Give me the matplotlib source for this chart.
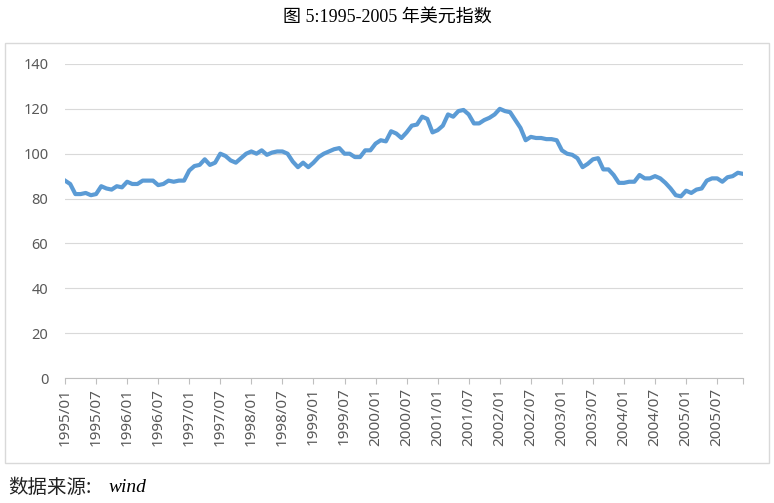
import numpy as np
import matplotlib.pyplot as plt
from matplotlib.patches import Rectangle

# monthly US dollar index, 1995/01 - 2005/12
months = [f"{y}/{m:02d}" for y in range(1995, 2006) for m in range(1, 13)]
usd_index = [
    88, 86.5, 82, 82, 82.5, 81.5, 82, 85.5, 84.5, 84, 85.5, 85,          # 1995
    87.5, 86.5, 86.5, 88, 88, 88, 86, 86.5, 88, 87.5, 88, 88,            # 1996
    92.5, 94.5, 95, 97.5, 95, 96, 100, 99, 97, 96, 98, 100,              # 1997
    101, 100, 101.5, 99.5, 100.5, 101, 101, 100, 96.5, 94, 96, 94,       # 1998
    96, 98.5, 100, 101, 102, 102.5, 100, 100, 98.5, 98.5, 101.5, 101.5,  # 1999
    104.5, 106, 105.5, 110, 109, 107, 109.5, 112.5, 113, 116.5, 115.5, 109.5,  # 2000
    110.5, 112.5, 117.5, 116.5, 119, 119.5, 117.5, 113.5, 113.5, 115, 116, 117.5,  # 2001
    120, 119, 118.5, 115, 111.5, 106, 107.5, 107, 107, 106.5, 106.5, 106,  # 2002
    101.5, 100, 99.5, 98, 94, 95.5, 97.5, 98, 93, 93, 90.5, 87,          # 2003
    87, 87.5, 87.5, 90.5, 89, 89, 90, 89, 87, 84.5, 81.5, 81,            # 2004
    83.5, 82.5, 84, 84.5, 88, 89, 89, 87.5, 89.5, 90, 91.5, 91,          # 2005
]
y_ticks = [0, 20, 40, 60, 80, 100, 120, 140]

plt.rcParams['font.family'] = ['Noto Sans', 'Noto Sans CJK SC']

fig = plt.figure(figsize=(7.74, 5.03), dpi=100)
ax = fig.add_axes([0.084, 0.2485, 0.876, 0.6243])

# chart frame
fig.patches.append(Rectangle((0.007, 0.079), 0.987, 0.835, transform=fig.transFigure,
                             fill=False, edgecolor='#D9D9D9', linewidth=1))

x = np.arange(len(months))
ax.plot(x, usd_index, color='#5B9BD5', linewidth=3, solid_joinstyle='round')

ax.set_ylim(0, 140)
ax.set_yticks(y_ticks)
ax.set_xlim(0, len(months) - 1)
tick_pos = list(range(0, len(months), 6)) + [len(months) - 1]
ax.set_xticks(tick_pos)
ax.set_xticklabels([months[i] for i in range(0, len(months), 6)] + [''], rotation=90)

ax.grid(axis='y', color='#D9D9D9', linewidth=0.8)
ax.set_axisbelow(True)
for s in ['top', 'right', 'left']:
    ax.spines[s].set_visible(False)
ax.spines['bottom'].set_color('#BFBFBF')
ax.tick_params(axis='y', length=0, labelsize=10.5, labelcolor='#595959', pad=12)
ax.tick_params(axis='x', length=4, color='#BFBFBF', labelsize=11, labelcolor='#595959', pad=3)

fig.text(0.5, 0.965, '图 5:1995-2005 年美元指数', ha='center', va='center', fontsize=13,
         family=['Liberation Serif', 'Noto Sans CJK SC'])
fig.text(0.01, 0.03, '数据来源:', ha='left', va='center', fontsize=14,
         family=['Noto Sans CJK SC'], style='italic', color='#222222')
fig.text(0.14, 0.03, 'wind', ha='left', va='center', fontsize=14,
         family=['Liberation Serif'], style='italic')

fig.savefig('out.png', dpi=100)
